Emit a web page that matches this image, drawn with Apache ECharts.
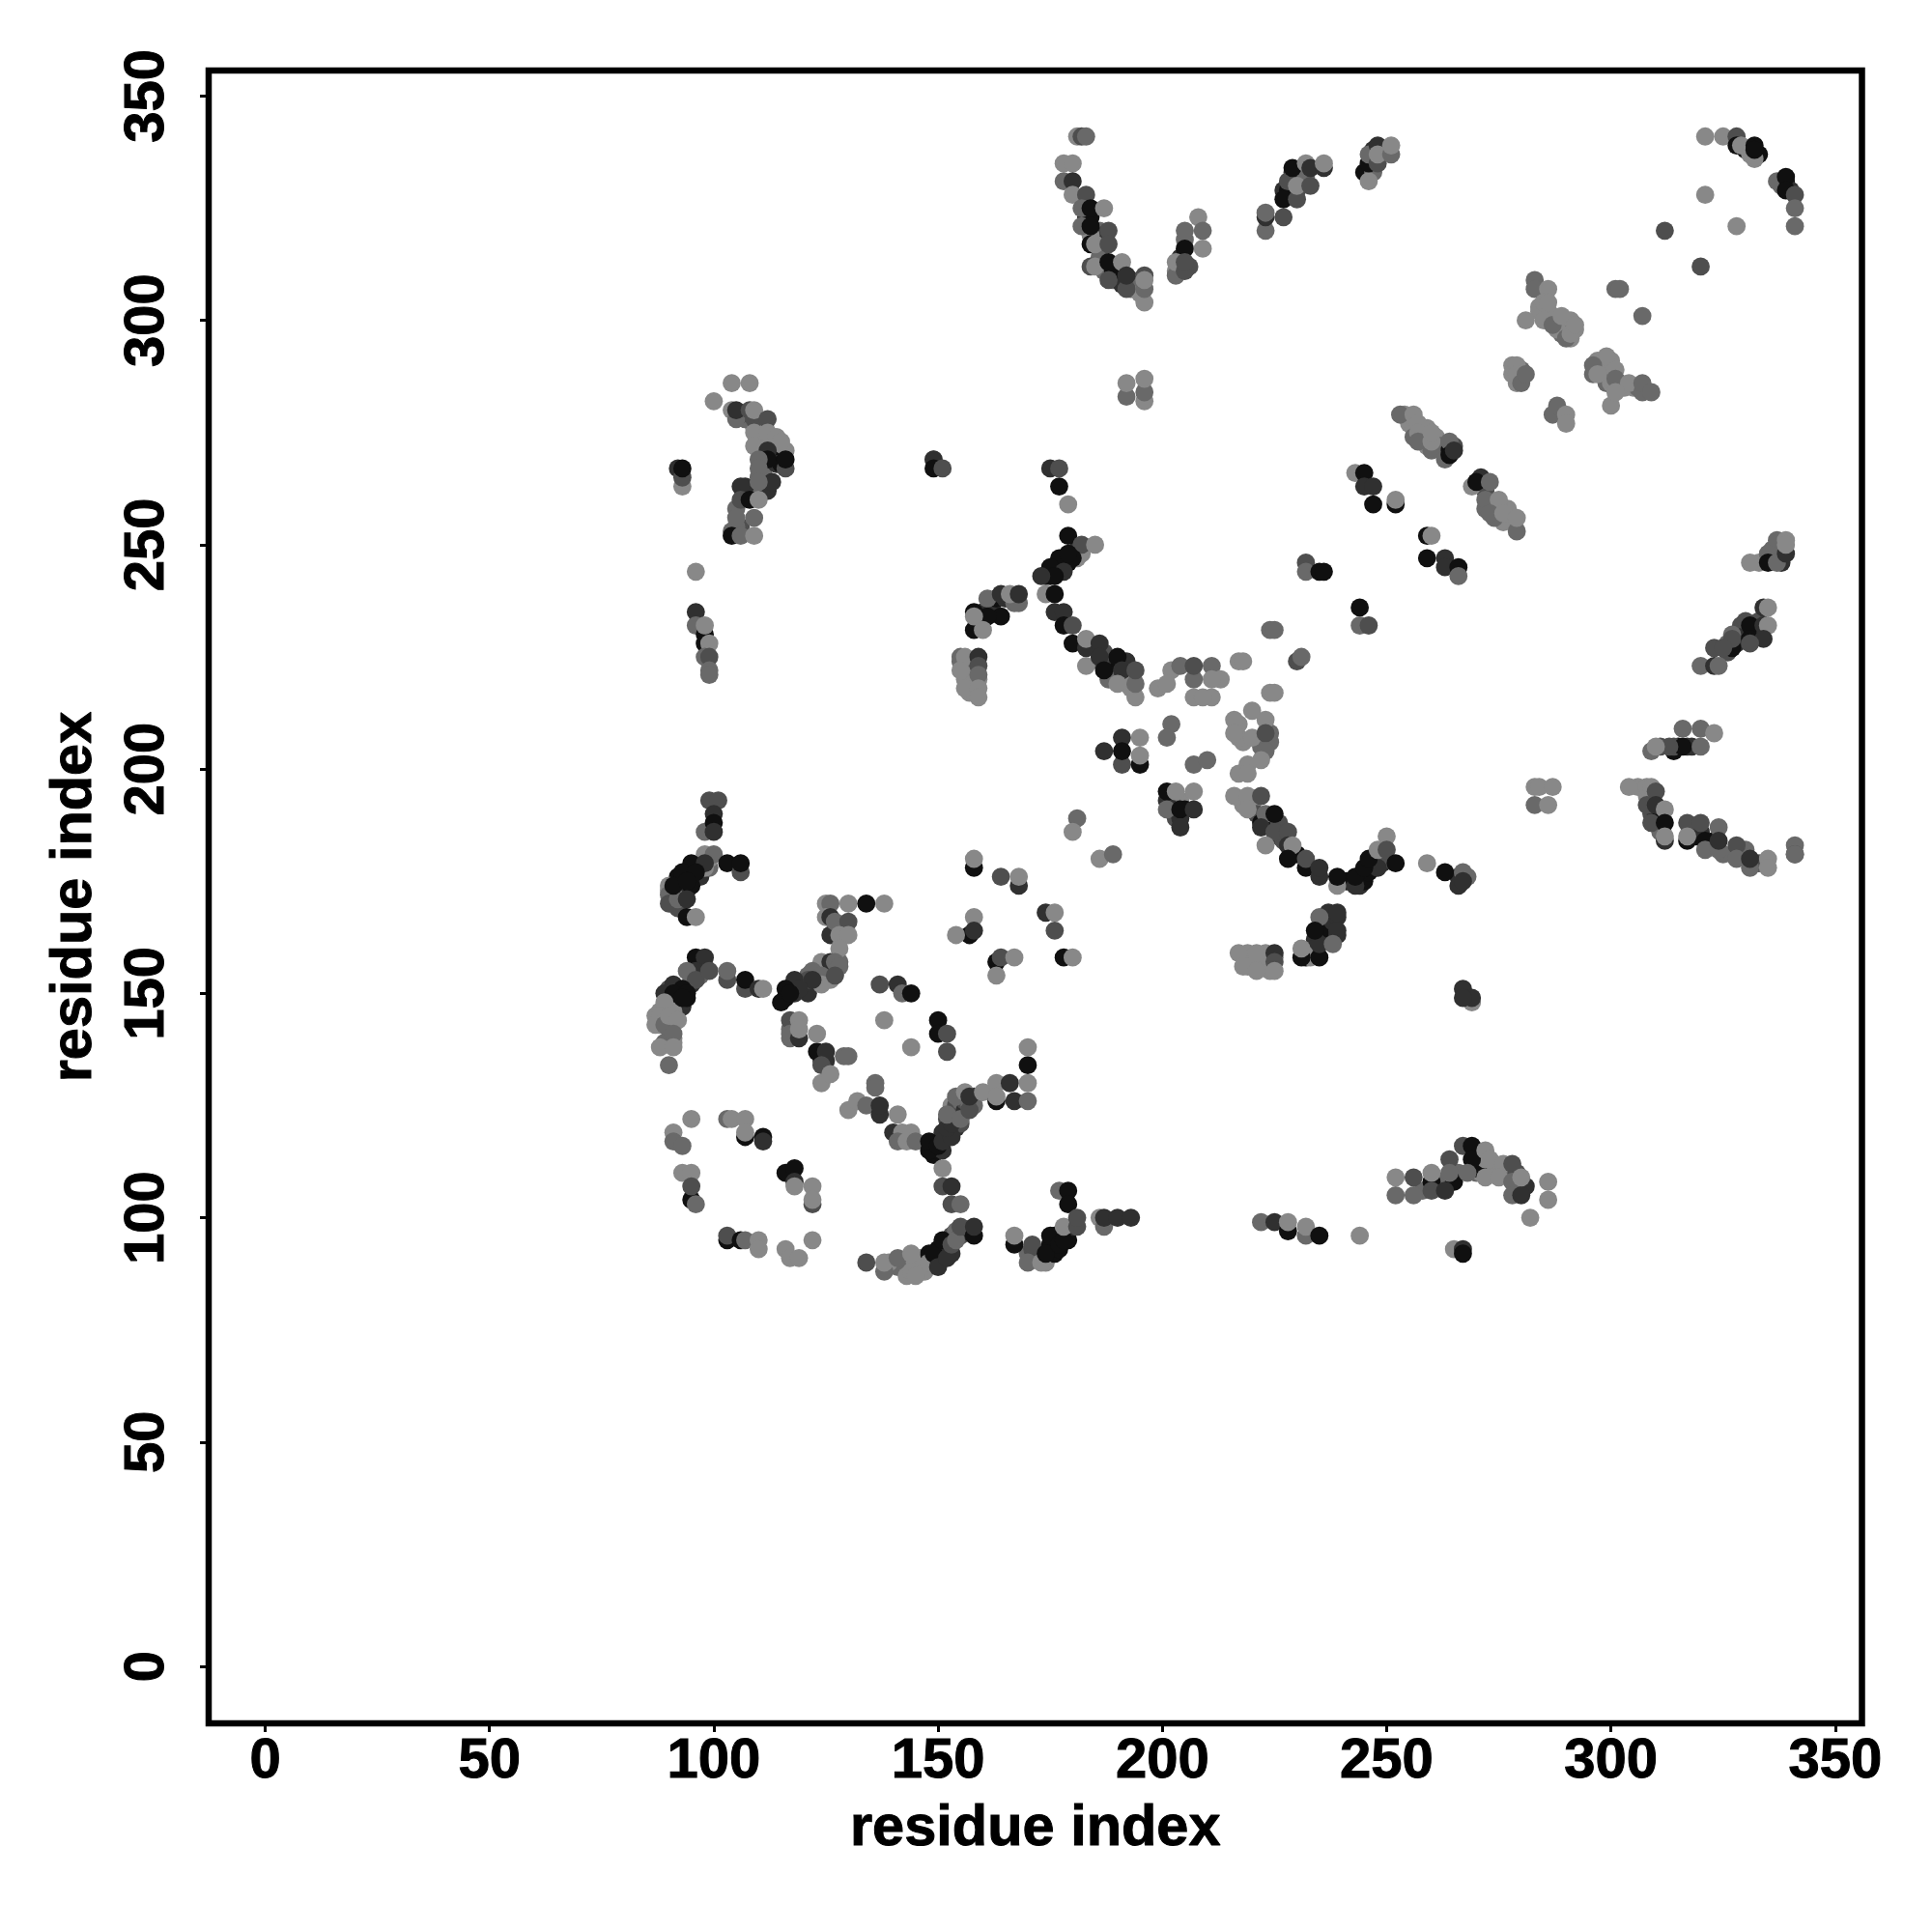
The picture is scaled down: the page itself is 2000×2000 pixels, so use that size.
<!DOCTYPE html>
<html><head><meta charset="utf-8">
<script src="https://cdn.jsdelivr.net/npm/echarts@6/dist/echarts.min.js"></script>
<style>html,body{margin:0;padding:0;background:#fff}#c{width:2000px;height:2000px}</style></head>
<body><div id="c"></div>
<script>
// shade levels (grey value of each contact point)
const D=16,K=48,M=78,G=105,L=136;
const tickValues=[0,50,100,150,200,250,300,350];
const axisTitle='residue index';
const denseLeft=[[92,176,D],[93,175,K],[94,173,D],[92,173,K],[96,178,D],[97,176,K],[95,174,D],[91,172,G],[91,171,L],[91,170,G],[92,169,M],[90,173,L],[99,178,G],[99,180,L],[90,151,M],[92,150,D],[92,148,D],[93,147,K],[94,149,D],[95,152,K],[95,153,G],[97,156,K],[97,154,G],[98,156,M],[88,146,L],[89,146,L],[90,147,L],[91,146,L],[89,144,L],[87,145,L],[88,143,L],[90,143,G],[91,139,L],[91,140,L],[90,142,G],[89,139,G],[119,152,K],[120,151,K],[121,150,K],[117,151,D],[116,149,D],[118,150,K],[121,154,G],[123,155,L],[125,155,L],[125,153,G],[123,153,K],[125,154,M],[126,155,L],[127,154,G],[126,153,L],[128,157,G],[117,142,G],[118,143,L],[117,140,G],[118,141,D],[124,135,M],[125,135,K]];
const denseBands=[[149,116,D],[149,114,D],[150,115,D],[150,117,D],[151,115,K],[151,119,K],[152,118,K],[152,122,M],[153,119,K],[153,122,G],[154,120,K],[154,123,K],[155,121,M],[155,124,G],[153,125,L],[154,125,M],[155,126,G],[156,124,K],[156,126,M],[157,125,G],[158,127,K],[158,125,G],[146,88,L],[147,88,L],[146,91,L],[143,90,L],[144,90,L],[145,90,L],[148,92,D],[150,93,D],[150,91,D],[149,90,D],[151,92,D],[152,93,K],[152,95,K],[153,96,M],[153,92,K],[154,97,G],[155,96,M],[156,97,K],[141,89,G],[139,90,L],[171,91,L],[172,91,M],[173,92,D],[174,90,L],[175,94,D],[176,96,D],[175,93,D],[176,92,D],[177,93,D],[178,96,K],[179,97,D],[179,95,D],[180,98,K],[170,92,G],[171,93,M],[176,245,D],[177,245,D],[178,246,K],[179,246,D],[180,248,K],[181,249,K],[175,243,D],[174,243,D],[181,247,L],[241,175,D],[244,174,K],[244,176,D],[245,175,D],[246,177,D],[246,178,D],[247,178,D],[247,180,D],[248,180,K],[249,181,K],[249,179,K],[250,180,M],[248,178,K]];
const denseRight=[[265,110,G],[266,110,G],[270,110,G],[271,110,L],[273,110,L],[270,111,D],[271,112,D],[272,113,L],[274,112,L],[275,111,L],[276,110,L],[258,106,G],[262,108,G],[265,108,D],[277,110,G],[279,110,M],[279,107,M],[281,107,K],[284,303,L],[285,302,G],[286,302,L],[287,301,L],[288,300,G],[289,299,G],[290,298,L],[291,300,L],[289,297,G],[288,298,L],[286,301,L],[284,302,L],[291,296,L],[292,298,L],[297,291,L],[298,290,L],[298,289,G],[299,288,L],[299,286,G],[300,286,L],[302,286,L],[303,285,L],[305,285,L],[306,285,G],[299,290,L],[300,291,L],[296,288,G],[279,286,L],[280,287,L],[278,288,L],[280,289,G],[258,276,L],[258,274,G],[259,276,L],[259,272,L],[261,274,L],[262,272,G],[254,279,L],[255,277,L],[256,276,L],[256,274,G],[263,272,G],[264,271,D],[265,272,M],[272,258,G],[274,259,L],[275,258,L],[277,258,L],[278,255,L],[276,255,L],[274,256,G],[272,262,M],[272,264,M]];
const denseTop=[[111,276,L],[112,273,L],[113,272,L],[114,271,L],[115,270,G],[116,271,L],[110,276,L],[109,276,L],[111,270,G],[110,265,G],[110,262,G],[111,266,G],[112,262,K],[107,263,K],[105,258,G],[106,254,M],[105,254,G],[104,253,G],[107,278,G],[106,279,M],[113,269,D],[114,268,K],[115,268,D],[155,224,G],[156,222,L],[157,221,L],[157,219,L],[156,220,L],[158,219,L],[158,223,G],[158,221,L],[157,217,L],[159,220,L],[160,235,K],[162,236,K],[163,238,D],[165,238,K],[167,237,G],[159,233,D],[159,232,K],[183,323,K],[184,323,D],[185,319,D],[186,320,G],[187,319,K],[186,314,G],[189,309,G],[190,310,M],[191,308,K],[193,309,M],[194,308,K],[195,308,G],[193,307,G],[195,306,L],[187,311,G],[189,311,D],[184,319,L],[203,311,L],[204,311,L],[204,312,M],[204,314,K],[206,312,M],[205,318,G],[227,329,K],[228,329,D],[231,333,K],[229,333,K],[230,329,M],[229,328,D],[232,332,G],[247,336,M],[249,338,L],[250,338,L],[247,338,K],[245,333,D],[247,333,G],[330,338,D],[333,337,D],[332,336,L],[338,330,G],[339,331,D],[340,329,K]];
const denseMiddle=[[218,206,L],[217,207,L],[224,208,G],[224,206,G],[222,205,G],[217,210,L],[192,222,K],[192,219,L],[188,224,K],[187,226,M],[186,224,M],[189,221,K],[190,222,D],[188,220,G],[192,224,K],[193,218,L],[222,156,L],[219,159,L],[220,156,L],[223,159,L],[223,157,L],[224,155,L],[225,158,L],[219,156,L],[233,159,K],[232,158,D],[233,160,L],[236,162,K],[237,165,K],[237,168,K],[236,164,D],[238,166,K],[234,162,K],[233,158,L],[239,163,K],[239,167,K],[329,232,M],[328,228,K],[330,230,K],[332,231,K],[333,233,M],[326,228,G],[326,226,M],[336,247,M],[338,248,G],[333,246,L],[338,246,K],[336,249,G],[338,250,G],[309,190,M],[310,190,K],[311,189,D],[308,194,L],[306,196,L],[311,186,G],[318,186,M],[319,185,D],[320,186,K],[322,183,K],[323,184,D],[325,181,G],[327,181,G],[333,179,M],[330,182,G],[315,205,D],[317,205,K],[318,205,K],[314,204,D],[314,205,M],[218,192,L],[220,192,L],[221,190,M],[222,188,D],[223,188,K],[224,188,D],[226,188,M],[226,185,K],[227,184,M],[230,181,D],[204,193,L],[202,193,G],[201,193,K],[205,191,D],[203,189,M],[204,189,K],[266,176,K],[266,174,K],[268,176,G]];
const clusterA=[[99,193,M],[101,193,M],[98,186,G],[100,190,K],[100,188,D],[100,186,K],[98,181,L],[100,181,G],[98,178,L],[95,179,D],[98,179,K],[103,179,D],[106,177,M],[106,179,D],[90,174,L],[90,172,G],[90,170,M],[92,171,G],[93,177,D],[96,177,D],[91,174,D],[94,175,D],[94,171,K],[94,167,D],[96,167,L]];
const clusterB=[[125,170,L],[126,170,G],[130,170,L],[134,170,D],[138,170,L],[125,167,L],[126,163,K],[126,167,K],[127,166,G],[130,166,M],[128,163,L],[130,163,L],[128,160,L],[124,157,L],[126,157,K],[127,157,G],[128,156,G],[122,155,G],[124,154,G],[124,152,L],[127,154,M],[121,153,M],[122,153,K],[118,153,K],[119,151,K],[116,151,D],[115,148,D],[117,150,D]];
const clusterC=[[117,144,M],[117,141,G],[119,140,K],[119,144,L],[119,142,L],[123,137,D],[123,141,L],[125,137,K],[129,136,G],[130,136,G],[124,134,M],[124,130,L],[126,132,L]];
const clusterD=[[96,158,D],[98,158,K],[96,155,K],[94,155,G],[96,153,M],[99,155,M],[103,153,M],[103,155,G],[107,151,M],[107,153,D],[110,151,K],[111,151,L],[89,150,K],[91,152,K],[93,151,D],[91,150,D],[94,150,D],[93,149,D],[89,148,L],[88,145,L],[87,143,L],[89,143,G],[90,145,L],[92,144,L],[91,141,G],[88,138,L],[91,138,L],[90,134,G]];
const clusterE=[[136,130,G],[136,129,G],[130,124,L],[132,126,L],[134,125,G],[137,123,K],[137,125,K],[141,123,L],[140,119,K],[142,119,L],[144,119,L],[141,117,G],[143,117,L],[145,117,G],[148,115,D],[148,117,D],[150,116,D],[151,117,K],[153,118,K],[152,120,K],[153,121,K],[152,123,G],[155,122,G],[157,124,M],[154,127,G],[156,128,L],[157,127,K],[160,128,L],[163,126,D],[163,130,L],[163,127,L],[166,130,K],[167,126,K],[170,126,G],[170,130,L],[170,134,D],[170,138,L]];
const clusterF=[[137,152,M],[141,152,K],[142,150,G],[144,150,D],[138,144,L],[144,138,L],[150,144,D],[150,141,D],[152,141,M],[152,137,M]];
const clusterG=[[95,122,L],[91,119,L],[91,117,G],[93,116,G],[93,110,L],[95,110,L],[95,104,D],[95,107,M],[96,103,G],[103,122,G],[104,122,L],[107,118,D],[107,122,L],[107,119,L],[111,118,D],[111,117,K],[116,110,D],[118,111,D],[118,108,K],[118,107,L],[122,107,L],[122,103,M],[122,104,L],[103,95,D],[103,96,M],[106,95,D],[107,95,G],[110,95,L],[110,93,L],[116,93,L],[117,91,L],[119,91,L],[122,95,L]];
const clusterH=[[134,90,M],[138,88,G],[138,90,L],[141,91,G],[143,87,L],[144,92,L],[144,88,L],[145,87,L],[148,90,L],[149,92,D],[151,95,D],[150,89,K],[152,91,K],[153,94,M],[154,95,G],[155,98,M],[158,96,D],[158,98,K],[151,111,L],[151,107,M],[153,107,K],[153,103,M],[155,103,G]];
const clusterI=[[177,106,G],[179,106,D],[179,103,D],[167,94,D],[167,96,L],[171,94,M],[170,90,G],[173,90,L],[174,92,D],[175,96,D],[177,94,D],[178,95,D],[178,98,L],[181,98,M],[181,100,M],[186,100,L],[187,98,G],[187,100,K],[190,100,K],[193,100,K],[181,189,G],[180,186,L],[186,180,L],[189,181,G]];
const clusterJ=[[158,178,D],[158,180,L],[164,176,M],[168,174,K],[168,176,L],[158,167,L],[157,163,D],[158,164,K],[154,163,L],[174,168,K],[176,168,L],[176,164,M],[178,158,D],[180,158,L],[163,157,D],[163,154,L],[164,158,M],[167,158,L]];
const clusterK=[[175,267,K],[177,267,M],[177,263,D],[179,259,L],[179,252,D],[182,248,L],[182,250,M],[185,250,L],[180,247,D],[177,247,D],[179,248,D],[175,245,D],[178,244,K],[176,243,D],[173,243,K],[174,239,L],[176,239,D],[176,235,K],[178,235,K],[178,232,D],[180,232,M],[180,228,D],[183,227,K],[183,229,L],[186,228,K],[183,223,L],[186,225,K],[187,222,D],[190,225,D],[191,222,K],[190,219,L],[194,216,L],[194,219,G],[194,222,M]];
const clusterL=[[199,218,L],[202,222,L],[201,219,L],[204,223,G],[207,220,G],[207,223,M],[211,223,G],[213,220,L],[211,220,L],[207,216,L],[211,216,L],[209,216,L],[217,224,L],[218,224,L],[224,217,L],[225,217,L],[224,231,G],[225,231,G],[230,224,M],[231,225,G],[232,246,M],[232,244,G],[235,244,D],[236,244,D],[244,236,D],[244,232,G],[246,232,M]];
const clusterM=[[243,266,L],[245,266,D],[245,263,K],[247,263,K],[247,259,D],[252,259,D],[252,260,L],[259,252,D],[260,252,L],[259,247,D],[263,247,K],[263,245,K],[266,245,D],[266,243,G]];
const clusterN=[[191,207,K],[195,207,L],[187,204,K],[191,201,M],[191,204,D],[195,201,D],[195,203,L],[202,210,G],[201,207,G],[207,201,G],[210,202,G],[216,211,L],[216,208,L],[220,213,L],[223,211,L],[220,207,L],[223,208,M],[223,204,G],[222,202,L],[219,201,L],[217,199,L],[219,199,L]];
const clusterO=[[201,195,D],[203,195,L],[207,195,L],[201,191,G],[204,191,D],[207,191,K],[204,187,K],[216,194,L],[219,194,L],[222,194,M],[219,191,L],[223,190,G],[225,190,D],[222,187,K],[225,186,M],[228,186,M],[223,183,L],[228,183,K],[229,183,L],[228,180,D],[232,178,D],[232,180,M],[235,176,K],[235,178,K],[239,174,L],[239,176,D],[243,174,K],[243,176,D],[245,178,D],[246,180,D],[248,182,L],[250,185,L],[250,182,M],[252,179,D],[259,179,L],[263,177,D]];
const clusterP=[[267,177,G],[267,175,K],[265,93,L],[267,93,K],[267,92,D],[267,151,K],[269,148,L],[269,149,K],[267,149,K],[217,159,L],[221,159,L],[225,159,K],[225,157,M],[218,156,L],[221,155,L],[225,155,L],[231,158,D],[231,160,L],[235,158,D],[235,161,K],[235,167,G],[234,164,D],[239,168,K],[239,164,K],[238,161,G]];
const clusterQ=[[222,99,G],[225,99,K],[228,97,D],[228,99,L],[232,96,G],[232,98,L],[235,96,D],[244,96,L],[252,105,G],[252,109,L],[256,109,M],[256,105,G],[260,108,D],[260,110,L],[260,106,M],[263,106,K],[264,113,M],[264,110,G],[267,116,M],[269,116,D],[269,113,D],[272,115,L],[273,113,L],[276,112,L],[278,112,M],[268,110,G],[272,109,L],[275,109,L],[278,108,G],[278,105,G],[280,105,K],[280,109,L],[282,100,L],[286,108,L],[286,104,L]];
const clusterR=[[304,196,L],[308,196,L],[309,196,L],[310,195,M],[308,192,M],[310,192,K],[312,191,L],[309,188,M],[312,188,D],[312,184,K],[312,185,L],[317,188,M],[320,188,M],[317,184,D],[317,185,L],[321,184,D],[321,182,G],[324,187,G],[324,182,G],[324,184,K],[328,183,M],[328,180,G],[331,178,G],[331,180,K],[335,180,L],[335,178,L],[341,183,G],[341,181,M],[341,181,G],[283,196,L],[284,196,L],[287,196,L],[283,192,G],[286,192,L]];
const clusterS=[[181,341,L],[182,341,M],[183,341,G],[178,335,L],[180,335,L],[178,331,G],[180,331,K],[180,328,L],[183,328,M],[182,325,G],[184,325,D],[187,325,L],[182,321,G],[184,321,D],[188,320,M],[184,317,D],[185,317,L],[188,317,M],[184,312,M],[185,312,L],[188,313,D],[191,313,L],[188,309,M],[192,307,M],[192,310,K],[196,304,L],[196,307,G],[196,310,M],[196,309,L]];
const clusterT=[[208,323,L],[205,320,G],[209,320,G],[205,316,D],[209,316,L],[203,310,G],[203,313,L],[205,311,M],[205,313,M],[223,320,G],[223,323,K],[223,324,G],[227,323,M],[227,327,D],[230,327,M],[228,331,M],[229,334,D],[230,330,L],[233,330,M],[232,335,L],[233,334,K],[236,334,K],[236,335,L],[246,331,L],[246,335,D],[246,337,G],[248,335,M],[248,339,K],[248,337,L],[251,337,G],[251,339,L]];
const clusterU=[[321,341,L],[325,341,L],[328,341,M],[328,339,D],[329,339,L],[331,337,L],[332,339,D],[332,338,D],[337,331,G],[339,332,D],[339,329,D],[341,328,M],[341,325,G],[341,321,G],[321,328,L],[328,321,L],[312,320,M],[320,312,M]];
const clusterV=[[301,307,G],[302,307,G],[307,301,G],[283,309,G],[283,307,G],[286,307,L],[285,304,L],[286,304,L],[281,300,L],[285,300,L],[287,299,G],[289,301,L],[290,296,G],[291,297,L],[292,299,L],[278,290,L],[279,290,L],[279,288,L],[280,286,G],[281,288,G],[299,292,L],[296,290,G],[297,288,L],[301,289,L],[301,287,G],[300,281,L],[304,286,L],[301,284,L],[307,284,G],[307,286,G],[309,284,G],[287,279,G],[288,281,G],[290,279,L],[290,277,L]];
const clusterW=[[192,283,G],[192,286,L],[196,282,L],[196,284,G],[196,287,L],[253,279,G],[256,279,L],[257,277,L],[257,275,L],[257,273,G],[260,271,G],[260,273,L],[260,275,L],[264,273,G],[263,269,G],[264,270,D],[265,271,K],[269,263,L],[271,265,K],[270,264,D],[273,264,G],[272,260,G],[275,260,L],[273,257,G],[276,257,L],[279,253,G],[279,256,L]];
const clusterX=[[104,286,L],[108,286,L],[100,282,L],[104,280,L],[105,278,G],[105,280,K],[108,280,M],[109,278,M],[109,280,L],[112,278,M],[109,275,L],[109,272,L],[112,275,L],[114,274,L],[115,273,L],[112,271,K],[112,269,D],[116,267,M],[116,269,D],[110,269,G],[110,267,G],[113,264,K],[110,264,G],[106,263,K],[106,260,M],[108,260,D],[110,260,L],[105,256,G],[109,256,G],[104,252,D],[106,252,G],[109,252,L],[92,267,K],[93,263,L],[93,265,M],[93,267,D],[96,244,L],[96,235,K],[96,232,G],[98,230,D],[98,232,L],[98,228,D],[99,228,L],[98,225,G],[99,225,M],[99,222,G],[99,221,G],[149,269,L],[149,269,K],[149,267,D],[151,267,M]];
const clusterY=[[161,238,G],[164,239,K],[168,237,G],[166,239,L],[168,239,K],[164,234,D],[161,234,D],[158,235,D],[158,231,D],[158,234,L],[160,231,L],[155,225,G],[156,225,L],[159,225,K],[159,223,M],[159,221,G],[155,222,L],[156,218,L],[159,218,L],[159,216,L]];
const clusterZ=[[337,251,G],[339,251,L],[331,246,L],[335,248,G],[335,246,D],[337,246,G],[339,248,K],[339,250,L],[334,236,K],[335,236,L],[330,233,M],[331,232,D],[334,232,K],[335,232,L],[327,230,G],[327,227,D],[327,229,M],[331,229,D],[334,229,K],[331,228,M],[323,227,M],[325,227,M],[320,223,G],[323,223,K],[324,223,G],[316,205,D],[311,205,M],[313,205,M],[309,204,G],[310,205,L],[320,205,G],[316,209,G],[320,209,G],[323,208,L]];
const contacts=[denseLeft,denseBands,denseRight,denseTop,denseMiddle,clusterA,clusterB,clusterC,clusterD,clusterE,clusterF,clusterG,clusterH,clusterI,clusterJ,clusterK,clusterL,clusterM,clusterN,clusterO,clusterP,clusterQ,clusterR,clusterS,clusterT,clusterU,clusterV,clusterW,clusterX,clusterY,clusterZ].flat();

const font='"Liberation Sans"';
const textBold={fontFamily:font,fontWeight:'bold',color:'#000',textBorderColor:'#000',textBorderWidth:1};
const chart=echarts.init(document.getElementById('c'),null,{renderer:'canvas'});
chart.setOption({
  animation:false,
  backgroundColor:'#fff',
  grid:{left:216,top:73,width:1711.5,height:1711,show:true,borderColor:'#000',borderWidth:6.5,backgroundColor:'#fff'},
  xAxis:{type:'value',min:-12.6,max:355.95,
    name:axisTitle,nameLocation:'middle',nameGap:80,
    nameTextStyle:{...textBold,fontSize:59.5},
    axisLine:{show:false,onZero:false},splitLine:{show:false},
    axisTick:{show:true,length:9,lineStyle:{color:'#000',width:3},customValues:tickValues},
    axisLabel:{show:true,...textBold,fontSize:58,margin:11,customValues:tickValues,hideOverlap:false}},
  yAxis:{type:'value',min:-12.7,max:355.7,
    name:axisTitle,nameLocation:'middle',nameGap:108,nameRotate:90,
    nameTextStyle:{...textBold,fontSize:59.5},
    axisLine:{show:false,onZero:false},splitLine:{show:false},
    axisTick:{show:true,length:9,lineStyle:{color:'#000',width:3},customValues:tickValues},
    axisLabel:{show:true,rotate:90,...textBold,fontSize:58,margin:34,align:'center',verticalAlign:'bottom',customValues:tickValues,hideOverlap:false}},
  series:[{type:'scatter',symbol:'circle',symbolSize:18.8,clip:false,silent:true,
    data:contacts,
    itemStyle:{opacity:1,color:p=>{const v=p.data[2];return 'rgb('+v+','+v+','+v+')';}}}]
});
</script></body></html>
